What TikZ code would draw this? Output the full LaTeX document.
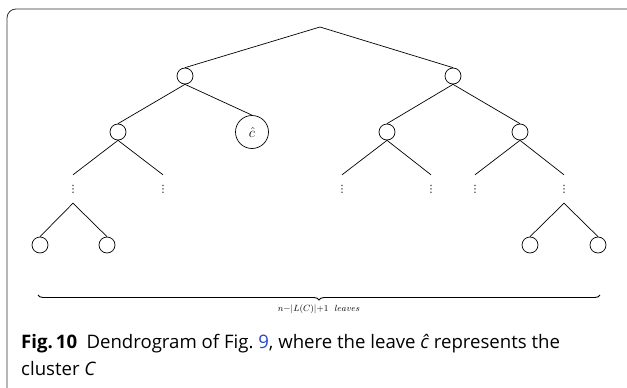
\documentclass[tikz,border=0pt]{standalone}
\usepackage{amsmath}
\usepackage{fontspec}
\usepackage{xcolor}
\usepackage{tikz}
\usetikzlibrary{decorations.pathreplacing}
\newfontfamily\capfont{Open Sans}
\newfontfamily\symfont{DejaVu Sans}
\definecolor{figref}{RGB}{40,70,200}

\begin{document}
\begin{tikzpicture}[
  x=1pt, y=-1pt,
  nd/.style={draw, circle, minimum size=16pt, inner sep=0pt, line width=0.7pt},
  cnd/.style={draw, circle, minimum size=33pt, inner sep=0pt, line width=0.7pt, font=\fontsize{15}{15}\selectfont},
  dts/.style={inner sep=0pt, minimum height=28pt, font=\symfont\fontsize{10}{10}\selectfont},
  edge/.style={line width=0.7pt}
]
\useasboundingbox (0,0) rectangle (627,388);
\draw[rounded corners=9pt, line width=0.8pt, black!80] (7,9) rectangle (650,410);

% tree
\coordinate (root) at (320,27);
\node[nd] (l) at (185,76) {};
\node[nd] (r) at (453,76) {};
\node[nd] (ll) at (118,132) {};
\node[cnd] (chat) at (252,132) {$\hat{c}$};
\node[nd] (rl) at (387,132) {};
\node[nd] (rr) at (520,132) {};
\node[dts] (d1) at (73,189) {⋮};
\node[dts] (d2) at (163,189) {⋮};
\node[dts] (d3) at (342,189) {⋮};
\node[dts] (d4) at (431,189) {⋮};
\node[dts] (d5) at (475,189) {⋮};
\node[dts] (d6) at (564,189) {⋮};
\node[nd] (lf1) at (40,245) {};
\node[nd] (lf2) at (107,245) {};
\node[nd] (lf3) at (530,245) {};
\node[nd] (lf4) at (598,245) {};

\draw[edge] (l.north) -- (root) -- (r.north);
\draw[edge] (ll.north) -- (l.south) -- (chat.north);
\draw[edge] (rl.north) -- (r.south) -- (rr.north);
\draw[edge] (d1.north) -- (ll.south) -- (d2.north);
\draw[edge] (d3.north) -- (rl.south) -- (d4.north);
\draw[edge] (d5.north) -- (rr.south) -- (d6.north);
\draw[edge] (lf1.north) -- (d1.south) -- (lf2.north);
\draw[edge] (lf3.north) -- (d6.south) -- (lf4.north);

% leaves count
\coordinate (bl) at (38,295);
\coordinate (br) at (600,295);
\draw[decorate, decoration={brace, mirror, amplitude=5pt}, line width=0.9pt]
  (bl) -- (br) node[midway, below=6pt, font=\small] (cnt) {$n{-}|L(C)|{+}1\ \ leaves$};

% caption
\node[anchor=north west, align=left, inner sep=0pt,
  font=\capfont\fontsize{18.6}{27}\selectfont] (cap) at (21,334)
  {\textbf{Fig.\,10}\enspace Dendrogram of Fig.~\textcolor{figref}{9}, where the leave \textit{ĉ} represents the\\cluster \textit{C}};
\end{tikzpicture}
\end{document}
